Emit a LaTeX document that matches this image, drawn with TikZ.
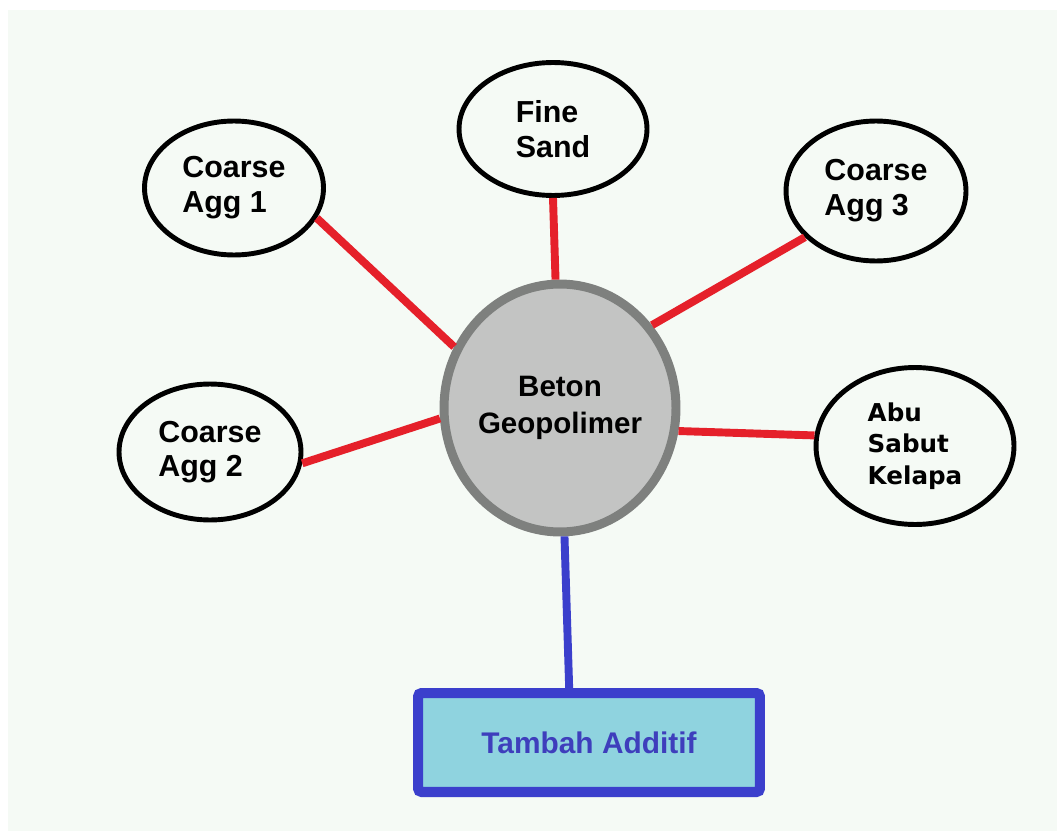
\documentclass[tikz,border=0pt]{standalone}
\usepackage{fontspec}
\setmainfont{Liberation Sans}
\newfontfamily\abufont{DejaVu Sans}
\usetikzlibrary{shapes.geometric}
\definecolor{bgcol}{HTML}{F5FAF5}
\definecolor{linkred}{HTML}{E5202A}
\definecolor{corefill}{HTML}{C3C4C3}
\definecolor{coreline}{HTML}{7E807E}
\definecolor{addfill}{HTML}{8FD3DF}
\definecolor{addblue}{HTML}{3B3FCC}
\definecolor{addtext}{HTML}{3E3EBC}

\begin{document}
\begin{tikzpicture}[x=0.02cm,y=-0.02cm,
    bahan/.style={ellipse, draw=black, line width=2.8pt, inner sep=0pt, align=left,
      font=\bfseries\fontsize{17.3}{19.8}\selectfont},
    link/.style={linkred, line width=4.5pt},
  ]
      \fill[white] (0,0) rectangle (1057,831);
      \fill[bgcol] (8,10) rectangle (1057,831);
      % binder in the middle
      \node[ellipse, fill=corefill, draw=coreline, line width=5.1pt, inner sep=0pt,
        minimum width=4.22cm, minimum height=4.96cm, align=center,
        font=\bfseries\fontsize{16.8}{21.5}\selectfont] (beton) at (560,408) {Beton\\Geopolimer};
      \node[bahan, minimum width=3.58cm, minimum height=2.68cm] (agg1) at (234,188) {Coarse\\Agg 1};
      \node[bahan, minimum width=3.76cm, minimum height=2.66cm] (fine) at (553,129) {Fine\\Sand};
      \node[bahan, minimum width=3.6cm, minimum height=2.8cm] (agg3) at (876,191) {Coarse\\Agg 3};
      \node[bahan, minimum width=3.64cm, minimum height=2.72cm] (agg2) at (210,452) {Coarse\\Agg 2};
      \node[bahan, minimum width=3.96cm, minimum height=3.14cm,
        font=\abufont\bfseries\fontsize{14}{17.8}\selectfont] (abu) at (915,446) {Abu\\Sabut\\Kelapa};
      \node[rectangle, rounded corners=2pt, fill=addfill, draw=addblue, line width=5.7pt,
        minimum width=6.84cm, minimum height=1.98cm, text=addtext,
        font=\bfseries\fontsize{17}{19}\selectfont] (aditif) at (589,742.5) {Tambah Additif};
      % links
      \draw[link] (agg1.-20) -- (beton.150);
      \draw[link] (fine.-90) -- (beton.92);
      \draw[link] (agg3.-147) -- (beton.42);
      \draw[link] (agg2.-7) -- (beton.185);
      \draw[link] (abu.174) -- (beton.-11);
      \draw[addblue, line width=4.5pt] (beton.-88) -- (aditif.110);
    \end{tikzpicture}
\end{document}
